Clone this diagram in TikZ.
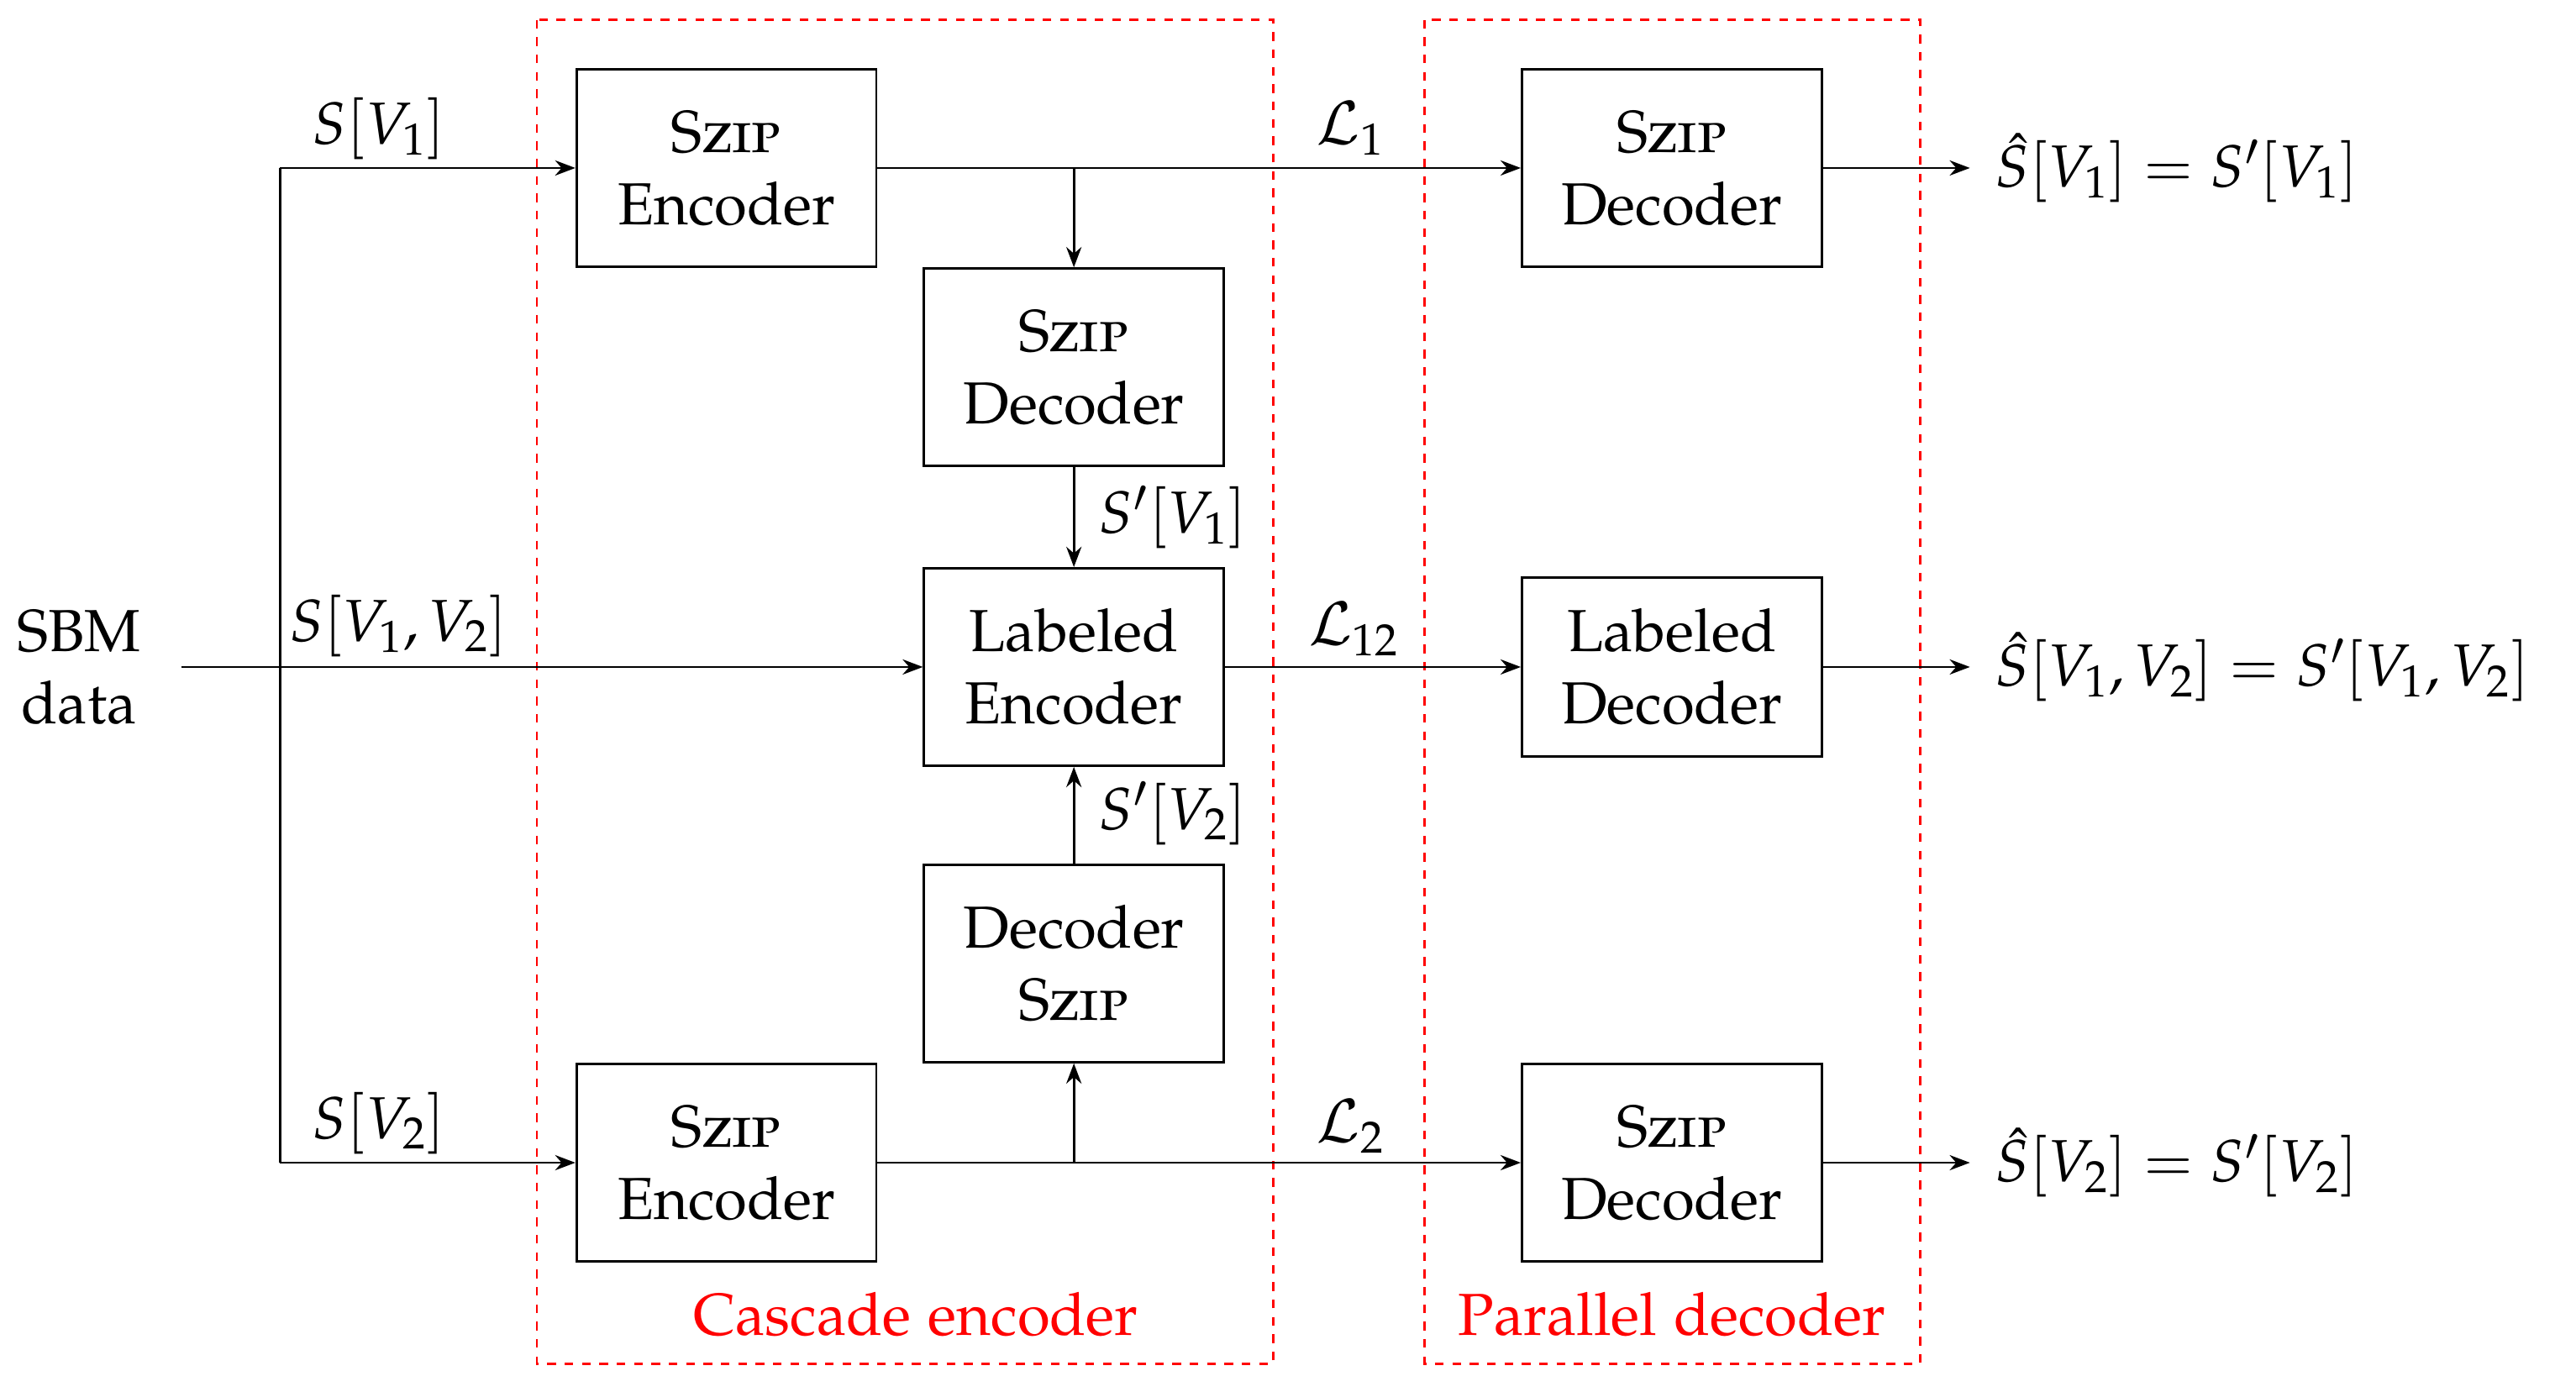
\documentclass[tikz,border=0pt]{standalone}
\usepackage[T1]{fontenc}
\usepackage[sc]{mathpazo}
\usetikzlibrary{arrows.meta}
\tikzset{
  blk/.style={draw, thick, minimum width=3.64cm, minimum height=2.4cm, align=center, inner sep=0pt},
  frame/.style={draw=red, thick, dashed},
  conn/.style={thick, -{Stealth[length=7pt]}}
}
\newcommand{\szip}{\textsc{Szip}}
\begin{document}
\begin{tikzpicture}[x=0.02cm, y=-0.02cm, every node/.style={font=\fontsize{20.5}{25}\selectfont}]
      \useasboundingbox (0,0) rectangle (1564,845);
      % dashed frames
      \draw[frame] (326,12) rectangle (773,828);
      \draw[frame] (865,12) rectangle (1166,828);
      \node[red] (cas) at (556,798) {Cascade encoder};
      \node[red] (par) at (1015,798) {Parallel decoder};
      % blocks
      \node[blk] (enc1) at (441,102) {\szip\\Encoder};
      \node[blk] (cdec) at (652,223) {\szip\\Decoder};
      \node[blk] (lenc) at (652,405) {Labeled\\Encoder};
      \node[blk] (cdec2) at (652,585) {Decoder\\\szip};
      \node[blk] (enc2) at (441,706) {\szip\\Encoder};
      \node[blk] (dec1) at (1015,102) {\szip\\Decoder};
      \node[blk, minimum height=2.18cm] (ldec) at (1015,405) {Labeled\\Decoder};
      \node[blk] (dec2) at (1015,706) {\szip\\Decoder};
      % input
      \node[align=center] (sbm) at (48,405) {SBM\\data};
      \coordinate (in) at (110,405);
      \coordinate (top) at (170,102);
      \coordinate (bot) at (170,706);
      \coordinate (b1) at (652,102);
      \coordinate (b2) at (652,706);
      \draw[conn] (in) -- (lenc.west);
      \draw[thick] (top) -- (bot);
      \draw[conn] (top) -- (enc1.west);
      \draw[conn] (bot) -- (enc2.west);
      \node (s1) at (230,78) {$S[V_1]$};
      \node (s12) at (242,380) {$S[V_1,V_2]$};
      \node (s2) at (230,682) {$S[V_2]$};
      % encoder side
      \draw[conn] (enc1.east) -- (dec1.west);
      \draw[conn] (b1) -- (cdec.north);
      \draw[conn] (cdec.south) -- (lenc.north);
      \draw[conn] (enc2.east) -- (dec2.west);
      \draw[conn] (b2) -- (cdec2.south);
      \draw[conn] (cdec2.north) -- (lenc.south);
      \draw[conn] (lenc.east) -- (ldec.west);
      \node (sp1) at (712,314) {$S'[V_1]$};
      \node (sp2) at (712,494) {$S'[V_2]$};
      \node (l1) at (820,78) {$\mathcal{L}_1$};
      \node (l12) at (822,382) {$\mathcal{L}_{12}$};
      \node (l2) at (820,684) {$\mathcal{L}_2$};
      % outputs
      \coordinate (o1) at (1196,102);
      \coordinate (o12) at (1196,405);
      \coordinate (o2) at (1196,706);
      \draw[conn] (dec1.east) -- (o1);
      \draw[conn] (ldec.east) -- (o12);
      \draw[conn] (dec2.east) -- (o2);
      \node[anchor=west] (h1) at (1205,102) {$\hat{S}[V_1]=S'[V_1]$};
      \node[anchor=west] (h12) at (1205,405) {$\hat{S}[V_1,V_2]=S'[V_1,V_2]$};
      \node[anchor=west] (h2) at (1205,706) {$\hat{S}[V_2]=S'[V_2]$};
    \end{tikzpicture}
\end{document}
